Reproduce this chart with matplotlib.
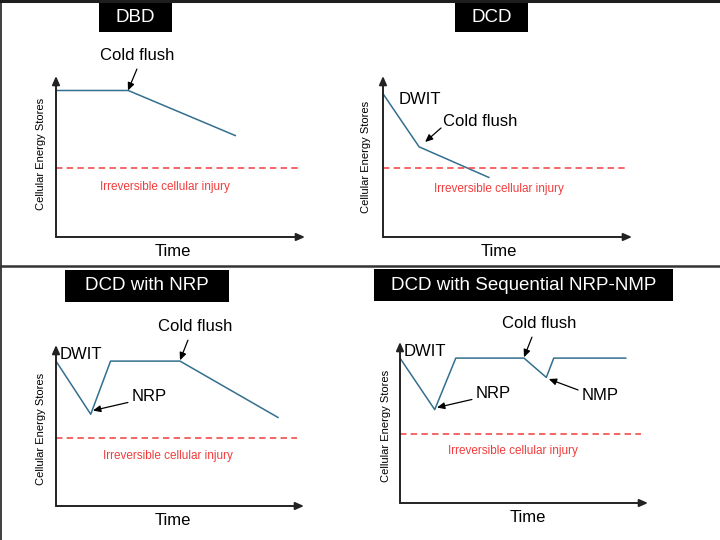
import matplotlib
matplotlib.use("Agg")
import matplotlib.pyplot as plt
from matplotlib.patches import Rectangle

plt.rcParams["font.family"] = ["Liberation Sans", "DejaVu Sans"]

# curves: time (0-100 along x axis) vs cellular energy (0-100 along y axis)
dbd_t = [0, 29, 72]
dbd_e = [91, 91, 63]
dcd_t = [0, 14.5, 42.5]
dcd_e = [89, 56, 37]
nrp_t = [0, 14, 22, 50, 89.5]
nrp_e = [90, 57, 90, 90, 55]
seq_t = [0, 14, 22.5, 50, 59, 62, 91]
seq_e = [90, 58, 90, 90, 78, 90, 90]
injury = [43, 43, 42, 43]

titles = ["DBD", "DCD", "DCD with NRP", "DCD with Sequential NRP-NMP"]

LINE = "#336F8E"
RED = "#F23C3C"
W, H = 720, 540

fig = plt.figure(figsize=(7.2, 5.4), dpi=100)

# overlay in pixel coords for frame and title boxes
bg = fig.add_axes([0, 0, 1, 1])
bg.set_xlim(0, W)
bg.set_ylim(H, 0)
bg.axis("off")
bg.plot([0, W], [1, 1], color="#1e1e1e", lw=2.2)
bg.plot([0.5, 0.5], [0, H], color="#1e1e1e", lw=1.2)
bg.plot([0, W], [265.5, 265.5], color="#333333", lw=1.8)

title_boxes = [(99, 2, 73, 30), (455, 2, 73, 30), (65, 270, 164, 32), (374, 269, 299, 32)]
for (x, y, w, h), t in zip(title_boxes, titles):
    bg.add_patch(Rectangle((x, y), w, h, facecolor="black", edgecolor="none"))
    bg.text(x + w / 2, y + h / 2, t, color="white", fontsize=13.5, ha="center", va="center")

boxes = [(56, 237, 305, 76), (383, 237, 632, 76), (56, 506, 304, 345), (400, 503, 648, 342)]
curves = [(dbd_t, dbd_e), (dcd_t, dcd_e), (nrp_t, nrp_e), (seq_t, seq_e)]
label_pos = [(-6, 51.5), (-6.8, 49.7), (-6, 47.8), (-5.6, 47.8)]
red_pos = [(43.8, 31), (46.6, 29.8), (45.2, 31), (45.6, 32.3)]
time_pos = [47, 46.6, 47.2, 51.6]

arrow = dict(arrowstyle="-|>,head_length=0.45,head_width=0.2", color="black", lw=0.9,
             shrinkA=0, shrinkB=0)
axis_arrow = dict(arrowstyle="-|>,head_length=0.5,head_width=0.22",
                  color="#222222", lw=1.4, shrinkA=0, shrinkB=0)

axes = []
for i, (x0, y0, x1, y1) in enumerate(boxes):
    ax = fig.add_axes([x0 / W, 1 - y0 / H, (x1 - x0) / W, (y0 - y1) / H])
    ax.set_xlim(0, 100)
    ax.set_ylim(0, 100)
    ax.axis("off")
    ax.annotate("", xy=(100, 0), xytext=(0, 0), annotation_clip=False, arrowprops=axis_arrow)
    ax.annotate("", xy=(0, 100), xytext=(0, 0), annotation_clip=False, arrowprops=axis_arrow)
    t, e = curves[i]
    ax.plot(t, e, color=LINE, lw=1.1, clip_on=False)
    ax.plot([0, 97], [injury[i], injury[i]], color=RED, lw=1.1, ls=(0, (4.2, 2.8)), clip_on=False)
    ax.text(*red_pos[i], "Irreversible cellular injury", color=RED, fontsize=8.5,
            ha="center", va="center")
    ax.text(time_pos[i], -9.3, "Time", fontsize=12, ha="center", va="center")
    ax.text(*label_pos[i], "Cellular Energy Stores", fontsize=8, rotation=90,
            ha="center", va="center")
    axes.append(ax)

ax1, ax2, ax3, ax4 = axes

ax1.text(17.7, 113, "Cold flush", fontsize=12, va="center")
ax1.annotate("", xy=(28.9, 91), xytext=(32.5, 104.3), arrowprops=arrow, annotation_clip=False)

ax2.text(6.4, 85.7, "DWIT", fontsize=12, va="center")
ax2.text(24.1, 72, "Cold flush", fontsize=12, va="center")
ax2.annotate("", xy=(16.9, 59), xytext=(23.3, 67.7), arrowprops=arrow, annotation_clip=False)

for ax in (ax3, ax4):
    ax.text(1.6, 94.4, "DWIT", fontsize=12, va="center")
    ax.text(30.6, 68, "NRP", fontsize=12, va="center")
    ax.annotate("", xy=(14.9, 59.3), xytext=(29, 64.3), arrowprops=arrow, annotation_clip=False)
    ax.text(41.1, 111.8, "Cold flush", fontsize=12, va="center")
    ax.annotate("", xy=(50, 90.5), xytext=(53.2, 103), arrowprops=arrow, annotation_clip=False)

ax4.text(73.4, 67, "NMP", fontsize=12, va="center")
ax4.annotate("", xy=(60, 77), xytext=(71.8, 70.2), arrowprops=arrow, annotation_clip=False)

fig.savefig("out.png", dpi=100)
